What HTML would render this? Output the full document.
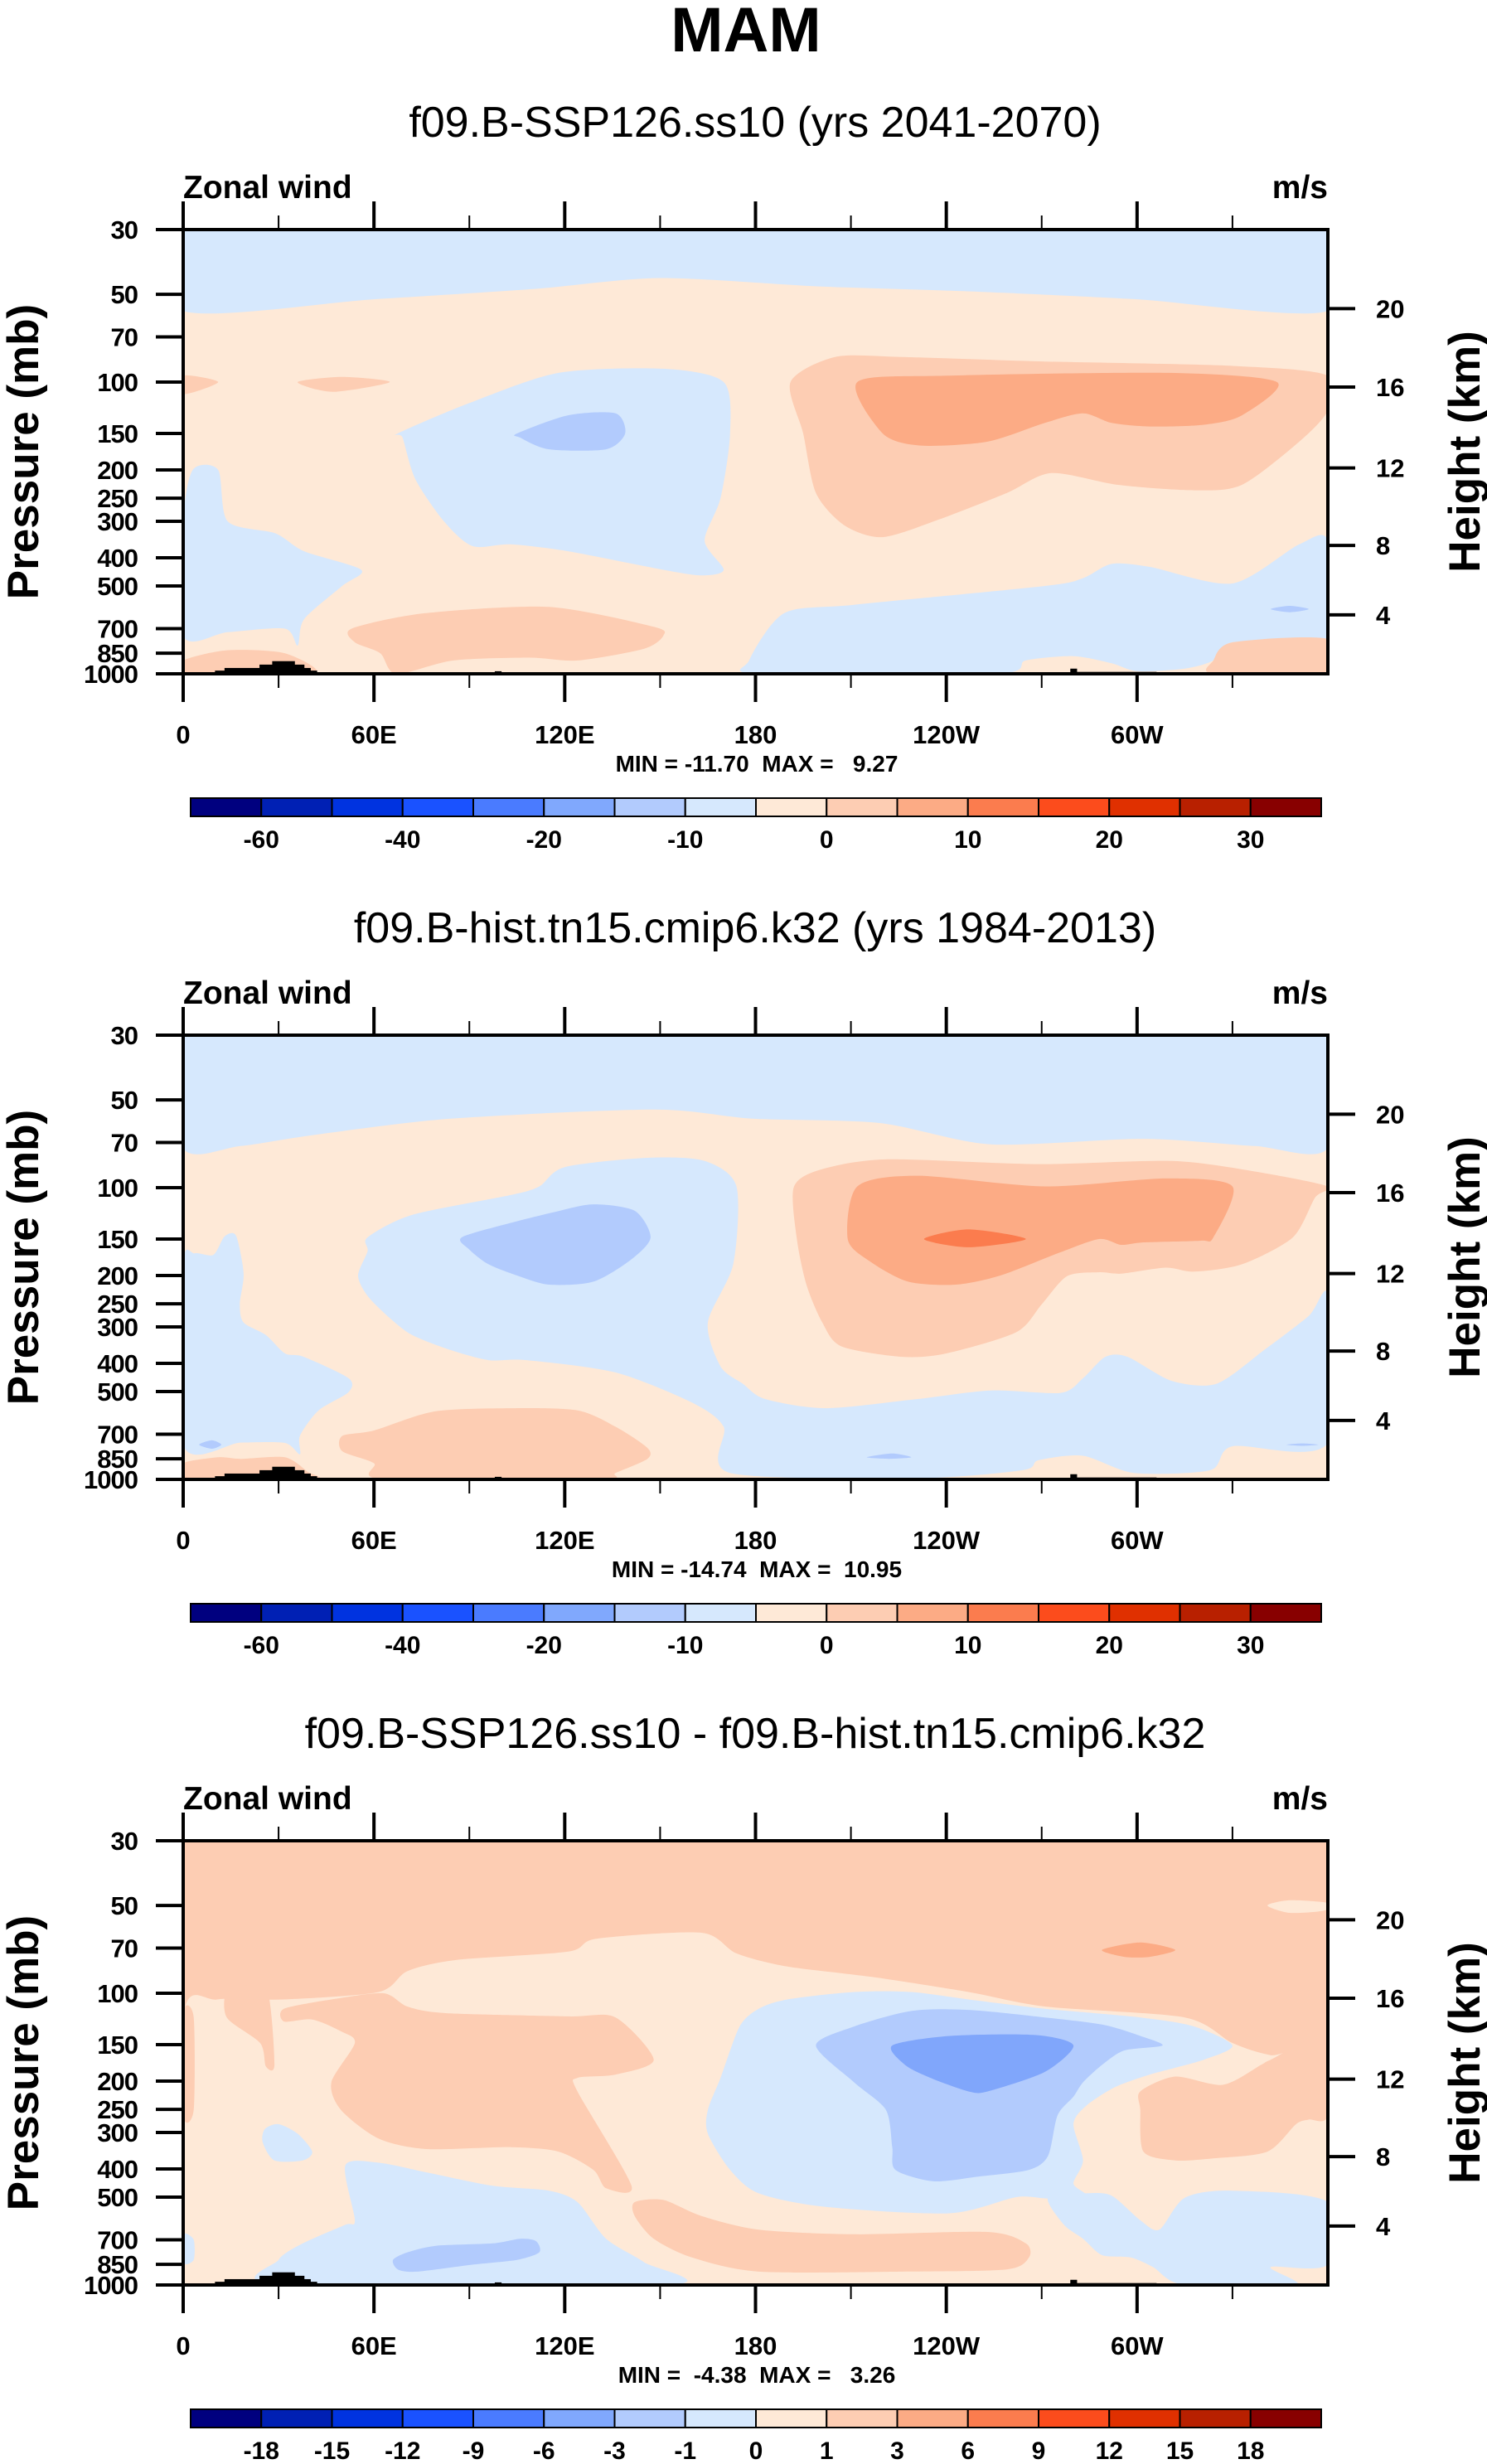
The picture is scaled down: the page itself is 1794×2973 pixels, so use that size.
<!DOCTYPE html>
<html><head><meta charset="utf-8"><title>MAM Zonal wind</title>
<style>
html,body{margin:0;padding:0;background:#fff;}
svg{display:block;font-family:"Liberation Sans",Arial,sans-serif;}
.pre{white-space:pre;}
</style></head>
<body>
<svg id="fig" width="1794" height="2973" viewBox="0 0 1794 2973" xmlns="http://www.w3.org/2000/svg">
<rect x="0" y="0" width="1794" height="2973" fill="#fff"/>
<text x="900" y="62" text-anchor="middle" font-size="76" font-weight="bold">MAM</text>
</svg>
<script>
// ---------- data ----------
const panelTitles = ["f09.B-SSP126.ss10 (yrs 2041-2070)", "f09.B-hist.tn15.cmip6.k32 (yrs 1984-2013)", "f09.B-SSP126.ss10 - f09.B-hist.tn15.cmip6.k32"];
const panelMinMax = ["MIN = -11.70  MAX =   9.27", "MIN = -14.74  MAX =  10.95", "MIN =  -4.38  MAX =   3.26"];
const pressureTicks = [30,50,70,100,150,200,250,300,400,500,700,850,1000];
const heightTicks = [20,16,12,8,4];
const heightTickPressure = [56,104,197,363,628];
const lonMajor = [0,60,120,180,240,300];
const lonLabels = ["0","60E","120E","180","120W","60W"];
const lonMinor = [30,90,150,210,270,330];
const cbLevels1 = [-60,-50,-40,-30,-20,-15,-10,-5,0,5,10,15,20,25,30];
const cbLevels3 = [-18,-15,-12,-9,-6,-3,-1,0,1,3,6,9,12,15,18];
const cbColors = ["#00007f","#0020b4","#0033e0","#1a52ff","#4a7bff","#80a8fd","#b2cbfd","#d6e8fd","#fee9d7","#fdcdb3","#fcab85","#fb7c4e","#fc4c1c","#e03000","#b82000","#880000"];

// topography (lon0, lon1, top pressure)
const topo = [[10,13,975],[13,24,955],[24,28,930],[28,35,905],[35,38,930],[38,40,955],[40,42,975],[98,100,980],[279,281,960],[281,306,985]];

// panel 1 contour regions (lon, pressure)
const p1TopBlue = [[0,30],[360,30],[360,57],[300,52],[250,49],[200,47],[150,44],[110,48],[60,52],[0,57]];
const p1MidBlue = [[67.5,150],[90,118],[118,93],[151,90],[170,100],[172,150],[169,250],[164,350],[170,440],[163,460],[151,440],[121,380],[103,360],[91,365],[82,300],[73,215],[69,155]];
const p1MidBlue2 = [[105,150],[121,130],[136,128],[139,150],[133,170],[115,170],[106,155]];
const p1RightPeach = [[191,100],[205,82],[226,82],[271,85],[330,88],[360,95],[360,125],[351,160],[333,225],[318,235],[294,225],[273,205],[259,240],[238,295],[220,340],[208,310],[199,240],[195,150]];
const p1RightOrange = [[212,100],[241,95],[310,93],[344,100],[333,130],[321,140],[304,142],[292,138],[283,128],[271,138],[253,160],[232,165],[220,150]];
const p1SmallPeach = [[36,100],[50,96],[65,100],[47,108]];
const p1EdgePeach = [[0,95],[11,100],[0,110]];
const p1LowBlueL = [[0,300],[3,200],[11,200],[14,300],[29,330],[38,380],[56,440],[50,500],[38,650],[36,800],[32,700],[14,720],[0,740]];
const p1LowBlueR = [[178,900],[189,620],[211,580],[271,500],[283,470],[292,420],[304,430],[330,490],[351,360],[360,350],[360,750],[330,780],[324,900],[315,960],[300,980],[292,920],[280,870],[265,900],[256,1000],[181,1000]];
const p1TinyBlue = [[342,600],[348,585],[354,600],[348,615]];
const p1LowPeach = [[53,700],[76,620],[115,590],[148,690],[151,740],[145,820],[124,900],[109,880],[85,900],[67,1000],[62,850],[54,780]];
const p1BotPeachL = [[0,900],[14,830],[32,850],[41,1000],[0,1000]];
const p1BotPeachR = [[330,780],[360,760],[360,1000],[324,1000],[324,900]];

// panel 2 contour regions
const p2TopBlue = [[0,30],[360,30],[360,73],[337,72],[302,68],[254,71],[219,60],[179,58],[148,54],[84,58],[41,66],[18,72],[0,73]];
const p2BigBlue = [[58,148],[72,124],[103,106],[112,99],[120,85],[146,79],[164,81],[174,99],[173,183],[165,290],[169,410],[176,470],[183,530],[202,570],[231,530],[254,496],[276,505],[283,450],[290,380],[297,380],[311,460],[325,470],[340,360],[354,275],[360,235],[360,750],[330,770],[323,930],[299,950],[283,830],[269,860],[264,930],[231,990],[172,950],[170,660],[160,545],[136,430],[108,390],[96,390],[84,360],[72,320],[65,280],[58,235],[55,200],[58,165]];
const p2LeftBlue = [[0,183],[3.6,168],[9.5,170],[13,147],[16.6,146],[19,197],[17.8,251],[19,290],[26,320],[32,370],[37.9,380],[52,450],[52,502],[42.6,580],[36.7,710],[36.7,820],[32,750],[18,748],[0,760]];
const p2LowPeach = [[50,710],[60,680],[79,585],[103,570],[124,580],[136,660],[146,780],[146,850],[136,950],[131,1000],[63,1000],[60,880],[50,800]];
const p2BotPeachL = [[0,880],[11,840],[18,850],[32,840],[39,940],[41,1000],[0,1000]];
const p2RightPeach = [[192,100],[200,87],[221,80],[269,83],[311,81],[337,88],[360,99],[356,108],[349,148],[333,183],[318,194],[309,188],[295,197],[288,195],[278,201],[270,251],[262,313],[240,370],[226,380],[207,350],[201,290],[196,215],[193,150]];
const p2RightOrange = [[212,99],[231,91],[271,99],[309,93],[330,99],[324,148],[320,152],[302,154],[295,157],[288,150],[275,168],[257,200],[243,215],[228,210],[216,179],[209,150]];
const p2Core = [[233,150],[247,139],[265,150],[247,160]];
const p2MidBlue2 = [[87.6,148],[103,132],[117,121],[129,114],[142,120],[147,148],[141,176],[129,210],[115,215],[105,200],[96,183],[90,163]];
const p2Blob1 = [[5,760],[9,735],[12,760],[9,785]];
const p2Blob2 = [[215,840],[223,815],[229,840],[222,850]];
const p2Blob3 = [[347,760],[352,753],[357,760],[352,767]];

// panel 3 contour regions
const p3LightPeach = [[0,121],[10.8,105],[31.7,105],[61.5,99],[70.5,84],[85.4,77],[121,72],[130,65],[163,62],[174,73],[190,81],[217,88],[247,99],[271,111],[315,121],[330,148],[342,163],[360,170],[360,1000],[0,1000]];
const p3Tongue = [[13.7,97],[19.7,94],[26.6,99],[28.7,176],[26,178],[24.2,148],[13.7,121]];
const p3EdgeStrip = [[0,117],[3.3,121],[3.3,251],[0,262]];
const p3PeachL = [[31.7,125],[40.6,123],[49.6,135],[54,148],[46.6,202],[49.6,251],[61.5,315],[76.5,342],[103,337],[118,349],[129,403],[133,466],[141,457],[124,217],[124,195],[136,190],[148,169],[136,121],[121,120],[82.5,117],[70.5,111],[63,100],[46.6,105],[31.7,113]];
const p3SmallBlueL = [[25.7,292],[30,281],[36,303],[40.6,349],[37.6,374],[28.7,374],[25,324]];
const p3PeachR = [[301,217],[312,193],[327,206],[339,176],[342,169],[360,140],[360,262],[354,271],[350,281],[341,349],[324,368],[312,374],[302,349],[301,251]];
const p3PeachLow = [[142,520],[151,511],[163,580],[181,646],[211,670],[253,658],[265,720],[266,805],[259,884],[226,900],[181,900],[160,805],[148,694],[142,580]];
const p3TopPatch = [[341,50],[348,48],[360,49],[359,52],[348,53]];
const p3TopOrange = [[289,71],[301,67],[312,71],[304,75],[296,75]];
const p3BlueC = [[181,113],[190,105],[211,99],[229,99],[247,105],[271,113],[301,121],[318,130],[330,151],[321,169],[304,190],[293,210],[284,243],[280,281],[283,374],[280,449],[284,495],[272,505],[262,500],[241,568],[202,540],[181,485],[172,403],[165,303],[165,251],[169,195],[175,130]];
const p3BlueR = [[272,502],[284,485],[292,494],[301,600],[307,646],[315,502],[330,475],[360,520],[360,851],[342,868],[350,1000],[315,1000],[305,868],[298,805],[289,790],[283,694],[277,622]];
const p3BlueL = [[51,389],[61.5,381],[76.5,411],[97.4,457],[115,475],[124,520],[133,694],[145,836],[153,1000],[30,1000],[30,820],[37.6,720],[51,622],[54,600]];
const p3BlueEdge = [[0,670],[3.3,700],[3.3,820],[0,840]];
const p3MidBlue = [[199,151],[211,130],[229,115],[247,114],[271,121],[289,128],[301,140],[308,151],[296,157],[289,176],[283,202],[280,226],[275,262],[272,361],[266,403],[250,425],[236,441],[224,403],[223,337],[221,251],[211,202]];
const p3MidBlueL = [[66,820],[70.5,773],[79.5,734],[97.4,720],[106,694],[111,708],[112,773],[105,820],[91.4,851],[73.5,900],[67.5,884]];
const p3DarkBlue = [[223,151],[241,140],[268,139],[280,151],[271,186],[253,217],[247,217],[235,195],[227,176]];

// ---------- drawing ----------
const NS = "http://www.w3.org/2000/svg";
const svg = document.getElementById("fig");
const PL = 221, PW = 1381, PH = 536, PT0 = 277, PSTEP = 972;
const LOGR = Math.log(1000/30);
function xScale(lon){ return PL + lon/360*PW; }
function yScale(p, top){ return top + Math.log(p/30)/LOGR*PH; }
function mk(tag, attrs, parent){
  const e = document.createElementNS(NS, tag);
  for (const k in attrs) e.setAttribute(k, attrs[k]);
  (parent||svg).appendChild(e);
  return e;
}
function smoothPath(pts){
  const n = pts.length, t = 0.8/6;
  let d = "M" + pts[0][0].toFixed(1) + "," + pts[0][1].toFixed(1);
  for (let i=0;i<n;i++){
    const p0=pts[(i-1+n)%n], p1=pts[i], p2=pts[(i+1)%n], p3=pts[(i+2)%n];
    const c1=[p1[0]+(p2[0]-p0[0])*t, p1[1]+(p2[1]-p0[1])*t];
    const c2=[p2[0]-(p3[0]-p1[0])*t, p2[1]-(p3[1]-p1[1])*t];
    d += "C"+c1[0].toFixed(1)+","+c1[1].toFixed(1)+" "+c2[0].toFixed(1)+","+c2[1].toFixed(1)+" "+p2[0].toFixed(1)+","+p2[1].toFixed(1);
  }
  return d + "Z";
}
const C_LB="#d6e8fd", C_MB="#b2cbfd", C_DB="#80a6fb", C_LP="#fee9d7", C_P="#fdcdb3", C_O="#fcab85", C_DO="#fb7c4e";

const panels = [
  {bg:C_LP, cb:cbLevels1, every:2, layers:[
    [p1TopBlue,C_LB,"top-blue-region"],[p1MidBlue,C_LB,"blue-region-120e"],[p1MidBlue2,C_MB,"blue-core-120e"],
    [p1RightPeach,C_P,"jet-region"],[p1RightOrange,C_O,"jet-core"],[p1SmallPeach,C_P,"small-peach-region"],[p1EdgePeach,C_P,"edge-peach-region"],
    [p1LowBlueL,C_LB,"low-blue-left"],[p1LowBlueR,C_LB,"low-blue-right"],[p1TinyBlue,C_MB,"tiny-blue-region"],
    [p1LowPeach,C_P,"low-peach-region"],[p1BotPeachL,C_P,"bottom-peach-left"],[p1BotPeachR,C_P,"bottom-peach-right"]]},
  {bg:C_LP, cb:cbLevels1, every:2, layers:[
    [p2TopBlue,C_LB,"top-blue-region"],[p2BigBlue,C_LB,"central-blue-region"],[p2LeftBlue,C_LB,"left-blue-region"],
    [p2LowPeach,C_P,"low-peach-region"],[p2BotPeachL,C_P,"bottom-peach-left"],[p2RightPeach,C_P,"jet-region"],
    [p2RightOrange,C_O,"jet-core"],[p2Core,C_DO,"jet-max"],[p2MidBlue2,C_MB,"blue-core-120e"],
    [p2Blob1,C_MB,"blue-blob"],[p2Blob2,C_MB,"blue-blob"],[p2Blob3,C_MB,"blue-blob"]]},
  {bg:C_P, cb:cbLevels3, every:1, layers:[
    [p3LightPeach,C_LP,"light-peach-region"],[p3Tongue,C_P,"peach-tongue"],[p3EdgeStrip,C_P,"edge-peach-strip"],
    [p3PeachL,C_P,"peach-region-west"],[p3SmallBlueL,C_LB,"small-blue-region"],[p3PeachR,C_P,"peach-region-east"],
    [p3PeachLow,C_P,"low-peach-region"],[p3TopPatch,C_LP,"top-light-patch"],[p3TopOrange,C_O,"top-orange-patch"],
    [p3BlueC,C_LB,"central-blue-region"],[p3BlueR,C_LB,"low-blue-right"],[p3BlueL,C_LB,"low-blue-left"],[p3BlueEdge,C_LB,"edge-blue-strip"],
    [p3MidBlue,C_MB,"central-blue-core"],[p3MidBlueL,C_MB,"low-blue-core"],[p3DarkBlue,C_DB,"central-blue-max"]]}
];

panels.forEach((pn, i) => {
  const T = PT0 + i*PSTEP;
  const g = mk("g", {});
  
  
  const st = mk("text", {x:911, y:T-112, "text-anchor":"middle", "font-size":52}, g);
  
  
  st.textContent = panelTitles[i];
  const zw = mk("text", {x:PL, y:T-38, "font-size":39, "font-weight":"bold"}, g);
  
  
  zw.textContent = "Zonal wind";
  const un = mk("text", {x:PL+PW, y:T-38, "font-size":39, "font-weight":"bold", "text-anchor":"end"}, g);
  
  
  un.textContent = "m/s";

  const cid = "clip"+i;
  const cp = mk("clipPath", {id:cid}, g);
  mk("rect", {x:PL, y:T, width:PW, height:PH}, cp);
  const plot = mk("g", {"clip-path":"url(#"+cid+")"}, g);
  
  
  const bg = mk("rect", {x:PL, y:T, width:PW, height:PH, fill:pn.bg}, plot);
  
  
  pn.layers.forEach(L => {
    const pts = L[0].map(v => [xScale(v[0]), yScale(v[1], T)]);
    const path = mk("path", {d:smoothPath(pts), fill:L[1]}, plot);
    
    
  });
  topo.forEach(b => {
    const r = mk("rect", {x:xScale(b[0]), y:yScale(b[2],T), width:xScale(b[1])-xScale(b[0])+0.5, height:T+PH-yScale(b[2],T), fill:"#000"}, plot);
    
    
  });
  const frame = mk("rect", {x:PL, y:T, width:PW, height:PH, fill:"none", stroke:"#000", "stroke-width":4}, g);
  
  

  pressureTicks.forEach(p => {
    const y = yScale(p, T);
    const tk = mk("line", {x1:188, x2:PL, y1:y, y2:y, stroke:"#000", "stroke-width":4}, g);
    
    
    const tl = mk("text", {x:166, y:y+11, "text-anchor":"end", "font-size":31, "font-weight":"bold", "letter-spacing":"-1"}, g);
    
    
    tl.textContent = p;
  });
  heightTicks.forEach((h, k) => {
    const y = yScale(heightTickPressure[k], T);
    const tk = mk("line", {x1:PL+PW, x2:PL+PW+33, y1:y, y2:y, stroke:"#000", "stroke-width":4}, g);
    
    
    const tl = mk("text", {x:1660, y:y+11, "font-size":31, "font-weight":"bold"}, g);
    
    
    tl.textContent = h;
  });
  lonMajor.forEach((lon, k) => {
    const x = xScale(lon);
    const t1 = mk("line", {x1:x, x2:x, y1:T+PH, y2:T+PH+34, stroke:"#000", "stroke-width":4}, g);
    
    
    const t2 = mk("line", {x1:x, x2:x, y1:T, y2:T-34, stroke:"#000", "stroke-width":4}, g);
    
    
    const tl = mk("text", {x:x, y:T+620, "text-anchor":"middle", "font-size":31, "font-weight":"bold"}, g);
    
    
    tl.textContent = lonLabels[k];
  });
  lonMinor.forEach(lon => {
    const x = xScale(lon);
    const t1 = mk("line", {x1:x, x2:x, y1:T+PH, y2:T+PH+17, stroke:"#000", "stroke-width":2}, g);
    
    
    const t2 = mk("line", {x1:x, x2:x, y1:T, y2:T-17, stroke:"#000", "stroke-width":2}, g);
    
    
  });
  const mm = mk("text", {x:913, y:T+654, "text-anchor":"middle", "font-size":28, "font-weight":"bold", "class":"pre"}, g);
  
  
  mm.textContent = panelMinMax[i];

  const ya = mk("text", {transform:"translate(46,"+(T+268)+") rotate(-90)", "text-anchor":"middle", "font-size":53, "font-weight":"bold"}, g);
  
  
  ya.textContent = "Pressure (mb)";
  const ya2 = mk("text", {transform:"translate(1785,"+(T+268)+") rotate(-90)", "text-anchor":"middle", "font-size":53, "font-weight":"bold"}, g);
  
  
  ya2.textContent = "Height (km)";

  // colorbar
  const cbx = 230, cbw = (1594-230)/16, cby = T+686, cbh = 22;
  const cbg = mk("g", {}, g);
  
  
  cbColors.forEach((c, k) => {
    const r = mk("rect", {x:cbx+k*cbw, y:cby, width:cbw, height:cbh, fill:c, stroke:"#000", "stroke-width":2}, cbg);
    
    
  });
  pn.cb.forEach((v, k) => {
    if (k % pn.every !== 0) return;
    const tl = mk("text", {x:cbx+(k+1)*cbw, y:cby+60, "text-anchor":"middle", "font-size":30, "font-weight":"bold"}, cbg);
    
    
    tl.textContent = v;
  });
});
</script>
</body></html>
